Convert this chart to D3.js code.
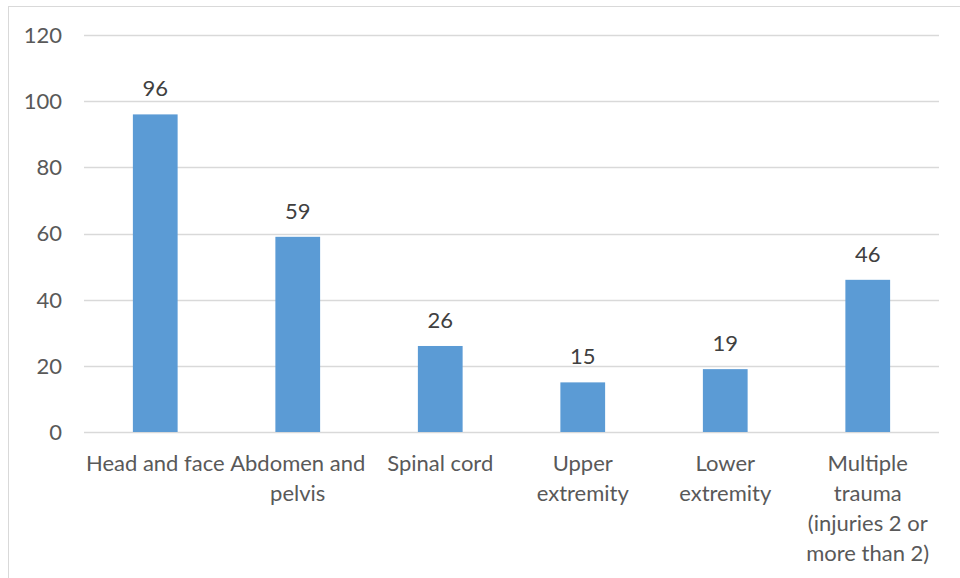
<!DOCTYPE html>
<html>
<head>
<meta charset="utf-8">
<script src="https://cdn.jsdelivr.net/npm/d3@7"></script>
<style>
  html, body { margin: 0; padding: 0; background: #fff; }
  svg { display: block; }
  text { font-family: Lato, "Open Sans", sans-serif; }
</style>
</head>
<body>
<svg id="chart" width="960" height="578"></svg>
<script>
// Injury type counts
const categories = [
  ["Head and face"],
  ["Abdomen and", "pelvis"],
  ["Spinal cord"],
  ["Upper", "extremity"],
  ["Lower", "extremity"],
  ["Multiple", "trauma", "(injuries 2 or", "more than 2)"]
];
const values = [96, 59, 26, 15, 19, 46];
const yTicks = [0, 20, 40, 60, 80, 100, 120];

const svg = d3.select("#chart");
const W = 960, H = 578;
const margin = { left: 84, right: 21, top: 35, bottom: 146 };
const plotW = W - margin.left - margin.right;

// Chart area frame
svg.append("rect")
  .attr("x", 8.5).attr("y", 6.5)
  .attr("width", 980).attr("height", 620)
  .attr("fill", "#fff")
  .attr("stroke", "#d9d9d9").attr("stroke-width", 1);

const x = d3.scaleBand()
  .domain(d3.range(categories.length))
  .range([margin.left, margin.left + plotW])
  .paddingInner(0.686)
  .paddingOuter(0.343);

const y = d3.scaleLinear()
  .domain([0, 120])
  .range([432, 35]);

// Horizontal gridlines
svg.append("g")
  .selectAll("line")
  .data(yTicks)
  .join("line")
  .attr("x1", margin.left).attr("x2", margin.left + plotW)
  .attr("y1", d => Math.round(y(d)) + 0.5)
  .attr("y2", d => Math.round(y(d)) + 0.5)
  .attr("stroke", "#d9d9d9")
  .attr("stroke-width", 1.3);

// Y axis tick labels
svg.append("g")
  .selectAll("text")
  .data(yTicks)
  .join("text")
  .attr("x", 62)
  .attr("y", d => y(d))
  .attr("dy", "0.36em")
  .attr("text-anchor", "end")
  .attr("fill", "#595959")
  .attr("font-size", 22)
  .text(d => d);

// Bars
svg.append("g")
  .selectAll("rect")
  .data(values)
  .join("rect")
  .attr("x", (d, i) => x(i))
  .attr("width", x.bandwidth())
  .attr("y", d => y(d))
  .attr("height", d => y(0) - y(d))
  .attr("fill", "#5b9bd5");

// Value labels
svg.append("g")
  .selectAll("text")
  .data(values)
  .join("text")
  .attr("x", (d, i) => x(i) + x.bandwidth() / 2)
  .attr("y", d => y(d) - 18)
  .attr("text-anchor", "middle")
  .attr("fill", "#404040")
  .attr("font-size", 22)
  .text(d => d);

// Category labels
const cat = svg.append("g")
  .selectAll("text")
  .data(categories)
  .join("text")
  .attr("x", (d, i) => x(i) + x.bandwidth() / 2)
  .attr("y", 471)
  .attr("text-anchor", "middle")
  .attr("fill", "#595959")
  .attr("font-size", 22);
cat.selectAll("tspan")
  .data(d => d)
  .join("tspan")
  .attr("x", function () { return d3.select(this.parentNode).attr("x"); })
  .attr("dy", (d, i) => i === 0 ? 0 : 30)
  .text(d => d);
</script>
</body>
</html>
